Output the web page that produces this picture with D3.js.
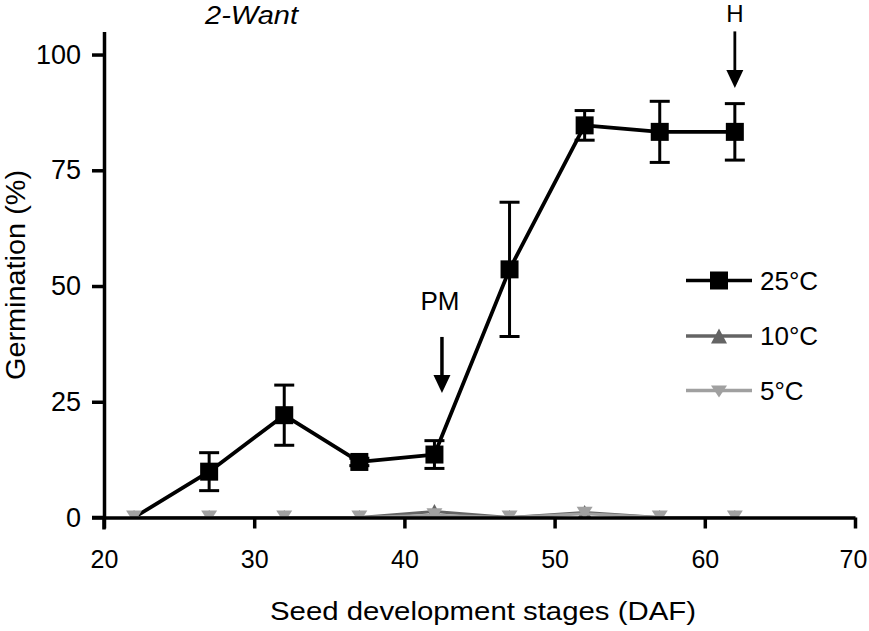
<!DOCTYPE html>
<html>
<head>
<meta charset="utf-8">
<script src="https://cdn.jsdelivr.net/npm/d3@7"></script>
<style>
    html, body { margin: 0; padding: 0; background: #fff; }
    svg { display: block; font-family: "Liberation Sans", Arial, sans-serif; }
</style>
</head>
<body>
<svg width="869" height="631"></svg>
<script>
// days after flowering
const days = [22, 27, 32, 37, 42, 47, 52, 57, 62];
const germ25 = [0, 9.9, 22.1, 12.0, 13.6, 53.6, 84.7, 83.3, 83.3];
const err25 = [0, 4.1, 6.5, 0.8, 3.0, 14.5, 3.2, 6.6, 6.1];
const germ10 = [0, 0, 0, 0, 1.3, 0, 1.1, 0, 0];
const germ5 = [0, 0, 0, 0, 0.5, 0, 0.8, 0, 0];
const noMarker25 = [22];

const seriesNames = ["25\u00B0C", "10\u00B0C", "5\u00B0C"];
const xTicks = [20, 30, 40, 50, 60, 70];
const yTicks = [0, 25, 50, 75, 100];

// arrows: label, day, arrow start and tip (in % germination)
const arrowLabels = ["PM", "H"];
const arrowDays = [42.5, 62];
const arrowFrom = [39, 105];
const arrowTo = [26.9, 92.8];

const svg = d3.select("svg");

const x = d3.scaleLinear().domain([20, 70]).range([104, 855]);
const y = d3.scaleLinear().domain([0, 105]).range([517.5, 31.4]);

const colors = ["#000000", "#646464", "#a0a0a0"];

// marker shapes
const square = s => `M${-s / 2},${-s / 2}h${s}v${s}h${-s}Z`;
const triUp = (w, h) => `M0,${-h / 2}L${w / 2},${h / 2}L${-w / 2},${h / 2}Z`;
const triDown = (w, top, bottom) => `M${-w / 2},${-top}L${w / 2},${-top}L0,${bottom}Z`;
const shapes = [square(18), triUp(16, 15), triDown(16, 7, 5.5)];

svg.append("defs").append("clipPath")
    .attr("id", "plotClip")
    .append("rect")
    .attr("x", 0).attr("y", 0)
    .attr("width", 869).attr("height", y(0));

const line = d3.line()
    .x(d => x(d.day))
    .y(d => y(d.v));

const toPoints = vals => days.map((day, i) => ({ day: day, v: vals[i] }));

// 25°C: error bars, line, squares
const g25 = svg.append("g");
const pts25 = days.map((day, i) => ({ day: day, v: germ25[i], e: err25[i] }));

const bars = g25.selectAll(".err")
    .data(pts25.filter(d => d.e > 0))
    .enter()
    .append("g")
    .attr("class", "err")
    .attr("stroke", "#000")
    .attr("stroke-width", 3);
bars.append("line")
    .attr("x1", d => x(d.day)).attr("x2", d => x(d.day))
    .attr("y1", d => y(d.v - d.e)).attr("y2", d => y(d.v + d.e));
bars.append("line")
    .attr("x1", d => x(d.day) - 10).attr("x2", d => x(d.day) + 10)
    .attr("y1", d => y(d.v + d.e)).attr("y2", d => y(d.v + d.e));
bars.append("line")
    .attr("x1", d => x(d.day) - 10).attr("x2", d => x(d.day) + 10)
    .attr("y1", d => y(d.v - d.e)).attr("y2", d => y(d.v - d.e));

g25.append("path")
    .datum(pts25)
    .attr("fill", "none")
    .attr("stroke", colors[0])
    .attr("stroke-width", 3.8)
    .attr("stroke-linejoin", "round")
    .attr("d", line);

g25.selectAll(".m25")
    .data(pts25.filter(d => !noMarker25.includes(d.day)))
    .enter()
    .append("path")
    .attr("class", "m25")
    .attr("d", shapes[0])
    .attr("fill", colors[0])
    .attr("transform", d => `translate(${x(d.day)},${y(d.v)})`);

// 10°C and 5°C sit on the x axis, clipped by it
[germ10, germ5].forEach((vals, k) => {
    const g = svg.append("g").attr("clip-path", "url(#plotClip)");
    const pts = toPoints(vals);
    g.append("path")
        .datum(pts)
        .attr("fill", "none")
        .attr("stroke", colors[k + 1])
        .attr("stroke-width", 3)
        .attr("d", line);
    g.selectAll(".mk")
        .data(pts)
        .enter()
        .append("path")
        .attr("class", "mk")
        .attr("d", shapes[k + 1])
        .attr("fill", colors[k + 1])
        .attr("transform", d => `translate(${x(d.day)},${y(d.v)})`);
});

// axes
const xAxis = svg.append("g")
    .attr("transform", `translate(0,${y(0)})`)
    .call(d3.axisBottom(x).tickValues(xTicks).tickSize(11).tickSizeOuter(0).tickPadding(22));
const yAxis = svg.append("g")
    .attr("transform", `translate(${x(20)},0)`)
    .call(d3.axisLeft(y).tickValues(yTicks).tickSize(12).tickSizeOuter(0).tickPadding(11));

[xAxis, yAxis].forEach((ax, i) => {
    ax.select(".domain").attr("stroke-width", 3.5);
    ax.selectAll(".tick line").attr("stroke-width", 3.5);
    ax.selectAll(".tick text")
        .attr("font-size", i === 0 ? 25 : 27)
        .attr("font-family", "Liberation Sans, Arial, sans-serif")
        .attr("fill", "#000");
});
// keep the last x label inside the frame
xAxis.selectAll(".tick text").filter(d => d === 70).attr("dx", -2);

// the y axis stub below the x axis and x axis stub to the left
svg.append("line")
    .attr("x1", x(20)).attr("x2", x(20))
    .attr("y1", y(0)).attr("y2", y(0) + 12)
    .attr("stroke", "#000").attr("stroke-width", 3.5);
svg.append("line")
    .attr("x1", x(20) - 12).attr("x2", x(20))
    .attr("y1", y(0)).attr("y2", y(0))
    .attr("stroke", "#000").attr("stroke-width", 3.5);

// arrows
arrowLabels.forEach((label, i) => {
    const ax = x(arrowDays[i]);
    const y0 = y(arrowFrom[i]);
    const y1 = y(arrowTo[i]);
    svg.append("line")
        .attr("x1", ax).attr("x2", ax)
        .attr("y1", y0).attr("y2", y1 - 16)
        .attr("stroke", "#000")
        .attr("stroke-width", i === 0 ? 3.5 : 2.8);
    svg.append("path")
        .attr("d", `M${ax - 8.5},${y1 - 18}L${ax + 8.5},${y1 - 18}L${ax},${y1}Z`)
        .attr("fill", "#000");
    svg.append("text")
        .attr("x", ax - (i === 0 ? 2 : 0))
        .attr("y", y0 - (i === 0 ? 27 : 9))
        .attr("text-anchor", "middle")
        .attr("font-size", i === 0 ? 26 : 24)
        .text(label);
});

// legend
const legend = svg.append("g").attr("transform", "translate(686,0)");
const legendY = [280.5, 336, 390.5];
seriesNames.forEach((name, i) => {
    const row = legend.append("g").attr("transform", `translate(0,${legendY[i]})`);
    row.append("line")
        .attr("x1", 0).attr("x2", 66)
        .attr("stroke", colors[i])
        .attr("stroke-width", 3.5);
    row.append("path")
        .attr("d", i === 1 ? triUp(16, 15) : i === 2 ? triDown(16, 5, 7) : shapes[0])
        .attr("fill", colors[i])
        .attr("transform", "translate(33,0)");
    row.append("text")
        .attr("x", 74)
        .attr("dy", "0.36em")
        .attr("font-size", 26)
        .text(name);
});

// titles
svg.append("text")
    .attr("x", 205)
    .attr("y", 24)
    .attr("font-size", 25)
    .attr("font-style", "italic")
    .attr("textLength", 93)
    .attr("lengthAdjust", "spacingAndGlyphs")
    .text("2-Want");

svg.append("text")
    .attr("x", 270)
    .attr("y", 620)
    .attr("font-size", 26)
    .attr("textLength", 426)
    .attr("lengthAdjust", "spacingAndGlyphs")
    .text("Seed development stages (DAF)");

svg.append("text")
    .attr("transform", "translate(25,275) rotate(-90)")
    .attr("text-anchor", "middle")
    .attr("font-size", 27)
    .attr("textLength", 210)
    .attr("lengthAdjust", "spacingAndGlyphs")
    .text("Germination (%)");
</script>
</body>
</html>
